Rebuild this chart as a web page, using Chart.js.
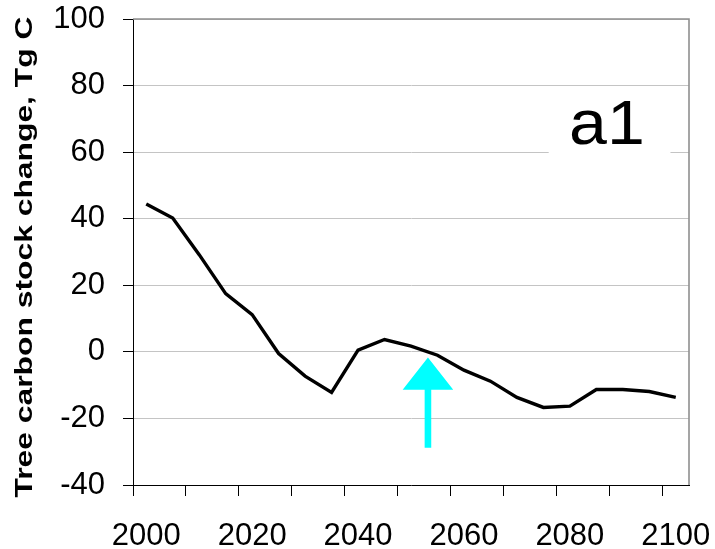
<!DOCTYPE html>
<html>
<head>
<meta charset="utf-8">
<script src="https://cdn.jsdelivr.net/npm/chart.js@4/dist/chart.umd.min.js"></script>
<style>
  html, body { margin: 0; padding: 0; background: #fff; }
  #wrap { width: 715px; height: 549px; position: relative; }
</style>
</head>
<body>
<div id="wrap"><canvas id="chart"></canvas></div>
<script>
// Simulated annual tree carbon stock change, 5-year steps
const years = [2000, 2005, 2010, 2015, 2020, 2025, 2030, 2035, 2040, 2045, 2050,
               2055, 2060, 2065, 2070, 2075, 2080, 2085, 2090, 2095, 2100];
const stockChange = [44.4, 40.2, 29.2, 17.5, 11.2, -0.5, -7.3, -12.2, 0.5, 3.7, 1.7,
                     -1.0, -5.5, -8.8, -13.7, -16.7, -16.3, -11.3, -11.3, -11.9, -13.7];
const labelledYears = [2000, 2020, 2040, 2060, 2080, 2100];
const yMin = -40;
const yMax = 100;
const yStep = 20;
const axisTitle = 'Tree carbon stock change, Tg C';
const panelLabel = 'a1';
// Marker arrow: year, tip, head base and tail values (Tg C)
const arrowYear = 2053.2;
const arrowTip = -1.7;
const arrowHeadBase = -11.4;
const arrowTail = -28.8;

const FONT = '"Liberation Sans", Arial, Helvetica, sans-serif';
const yearIndex = (yr) => (yr - years[0]) / (years[1] - years[0]);

const decorations = {
  id: 'decorations',
  beforeDatasetsDraw(chart) {
    const { ctx, scales: { x, y } } = chart;
    ctx.save();
    // white panel behind the panel label
    const l = x.getPixelForValue(15.2), r = x.getPixelForValue(19.8);
    const t = y.getPixelForValue(77), b = y.getPixelForValue(57.7);
    ctx.fillStyle = '#ffffff';
    ctx.fillRect(l, t, r - l, b - t);
    ctx.fillStyle = '#000';
    ctx.font = '63px ' + FONT;
    ctx.textAlign = 'center';
    ctx.textBaseline = 'alphabetic';
    ctx.translate(x.getPixelForValue(17.4), y.getPixelForValue(62.4));
    ctx.scale(1.08, 1);
    ctx.fillText(panelLabel, 0, 0);
    ctx.restore();
  },
  afterDatasetsDraw(chart) {
    const { ctx, scales: { x, y } } = chart;
    const cx = x.getPixelForValue(yearIndex(arrowYear));
    const tip = y.getPixelForValue(arrowTip);
    const base = y.getPixelForValue(arrowHeadBase);
    const tail = y.getPixelForValue(arrowTail);
    const headHalf = 25.3, shaftHalf = 3.3;
    ctx.save();
    ctx.fillStyle = '#00ffff';
    ctx.beginPath();
    ctx.moveTo(cx, tip);
    ctx.lineTo(cx + headHalf, base);
    ctx.lineTo(cx + shaftHalf, base);
    ctx.lineTo(cx + shaftHalf, tail);
    ctx.lineTo(cx - shaftHalf, tail);
    ctx.lineTo(cx - shaftHalf, base);
    ctx.lineTo(cx - headHalf, base);
    ctx.closePath();
    ctx.fill();
    ctx.restore();
  },
  afterDraw(chart) {
    const { ctx, chartArea: a } = chart;
    ctx.save();
    // light frame on top and right of the plot
    ctx.strokeStyle = '#8f8f8f';
    ctx.lineWidth = 1.6;
    ctx.beginPath();
    ctx.moveTo(a.left, a.top);
    ctx.lineTo(a.right, a.top);
    ctx.lineTo(a.right, a.bottom);
    ctx.stroke();
    // vertical axis title, drawn wide
    ctx.font = 'bold 23px ' + FONT;
    const w = ctx.measureText(axisTitle).width;
    ctx.fillStyle = '#000';
    ctx.textAlign = 'center';
    ctx.textBaseline = 'alphabetic';
    ctx.translate(32, 257);
    ctx.rotate(-Math.PI / 2);
    ctx.scale(481 / w, 1);
    ctx.fillText(axisTitle, 0, 0);
    ctx.restore();
  }
};

new Chart(document.getElementById('chart'), {
  type: 'line',
  data: {
    labels: years,
    datasets: [{
      data: stockChange,
      borderColor: '#000',
      borderWidth: 3.4,
      pointRadius: 0,
      tension: 0,
      fill: false
    }]
  },
  options: {
    responsive: true,
    maintainAspectRatio: false,
    animation: false,
    layout: { padding: { top: 19, right: 26, bottom: 0, left: 0 } },
    plugins: { legend: { display: false }, tooltip: { enabled: false } },
    scales: {
      x: {
        type: 'category',
        offset: true,
        border: { display: true, color: '#000', width: 1 },
        grid: {
          offset: true,
          drawOnChartArea: false,
          drawTicks: true,
          tickLength: 11,
          tickWidth: 1,
          tickColor: (c) => (c.index !== undefined && c.index % 2 === 0) ? '#000' : 'rgba(0,0,0,0)'
        },
        ticks: {
          autoSkip: false,
          maxRotation: 0,
          minRotation: 0,
          padding: 22,
          color: '#000',
          font: { family: FONT, size: 31 },
          callback: (v, i) => labelledYears.includes(years[i]) ? String(years[i]) : ''
        },
        afterFit: (s) => { s.height = 64; s.paddingLeft = 0; s.paddingRight = 0; }
      },
      y: {
        min: yMin,
        max: yMax,
        border: { display: true, color: '#000', width: 1 },
        grid: {
          color: '#c4c4c4',
          lineWidth: 1,
          drawTicks: true,
          tickLength: 10,
          tickColor: '#000'
        },
        ticks: {
          stepSize: yStep,
          padding: 18,
          color: '#000',
          font: { family: FONT, size: 31 }
        },
        afterFit: (s) => { s.width = 133; s.paddingTop = 0; s.paddingBottom = 0; }
      }
    }
  },
  plugins: [decorations]
});
</script>
</body>
</html>
